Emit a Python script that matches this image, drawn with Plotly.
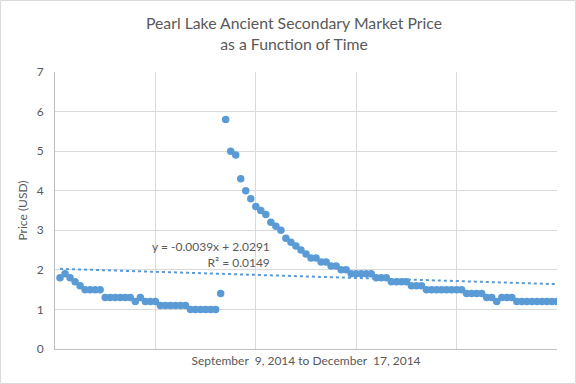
import plotly.graph_objects as go

days = list(range(1, 101))
price = (
    [1.8, 1.9, 1.8, 1.7, 1.6]
    + [1.5] * 4
    + [1.3] * 6
    + [1.2, 1.3]
    + [1.2] * 3
    + [1.1] * 6
    + [1.0] * 6
    + [1.4]
    + [5.8, 5.0, 4.9, 4.3, 4.0, 3.8, 3.6, 3.5, 3.4, 3.2, 3.1, 3.0, 2.8, 2.7, 2.6,
       2.5, 2.4, 2.3, 2.3, 2.2, 2.2, 2.1, 2.1, 2.0, 2.0]
    + [1.9] * 5
    + [1.8] * 3
    + [1.7] * 4
    + [1.6] * 3
    + [1.5] * 8
    + [1.4] * 4
    + [1.3] * 2
    + [1.2]
    + [1.3] * 3
    + [1.2] * 9
)
trend_slope = -0.0039
trend_intercept = 2.0291
trend_r2 = 0.0149
trend_x = [days[0], days[-1]]
trend_y = [trend_slope * x + trend_intercept for x in trend_x]

title_text = "Pearl Lake Ancient Secondary Market Price<br>as a Function of Time"
x_title = "September  9, 2014 to December  17, 2014"
y_title = "Price (USD)"

blue = "#5b9bd5"
grey = "#595959"
font = "Lato, 'Open Sans', sans-serif"

fig = go.Figure()
fig.add_trace(go.Scatter(x=trend_x, y=trend_y, mode="lines",
                         line=dict(color=blue, width=2, dash="dot"),
                         hoverinfo="skip", showlegend=False))
fig.add_trace(go.Scatter(x=days, y=price, mode="markers",
                         marker=dict(color=blue, size=7.5, line=dict(width=0)),
                         showlegend=False))

fig.add_annotation(x=43.2, y=2.39, xref="x", yref="y",
                   text=f"y = {trend_slope}x + {trend_intercept}<br>R² = {trend_r2}",
                   showarrow=False, align="right", xanchor="right", yanchor="middle",
                   font=dict(family=font, size=12, color=grey))

L, R, T, B = 55, 19, 72, 35
W, H = 576, 384
pw, ph = W - L - R, H - T - B
fig.add_shape(type="rect", xref="paper", yref="paper",
              x0=(0.5 - L) / pw, x1=(W - 0.5 - L) / pw,
              y0=-(B - 0.5) / ph, y1=1 + (T - 0.5) / ph,
              line=dict(color="#d9d9d9", width=1))

fig.update_layout(
    width=W, height=H,
    margin=dict(l=L, r=R, t=T, b=B, autoexpand=False),
    paper_bgcolor="white", plot_bgcolor="white",
    title=dict(text=title_text, x=294 / W, xref="container", xanchor="center",
               yref="container", y=1 - 29 / H, yanchor="top",
               font=dict(family=font, size=15.8, color=grey)),
    font=dict(family=font, color=grey, size=12),
    xaxis=dict(range=[0, 100], dtick=20, tick0=0, showticklabels=False,
               showgrid=True, gridcolor="#d9d9d9", gridwidth=1,
               zeroline=False, showline=True, linecolor="#bfbfbf",
               ticks="", automargin=False,
               title=dict(text=x_title, standoff=7,
                          font=dict(family=font, size=12, color=grey))),
    yaxis=dict(range=[0, 7], dtick=1, tick0=0,
               showgrid=True, gridcolor="#d9d9d9", gridwidth=1,
               zeroline=False, showline=True, linecolor="#bfbfbf",
               ticks="", ticklabelstandoff=8, automargin=False,
               tickfont=dict(family=font, size=12, color=grey),
               title=dict(text=y_title, standoff=6,
                          font=dict(family=font, size=12, color=grey))),
)

fig.write_html("out.html", config={"displayModeBar": False},
               post_script="document.body.style.margin='0';")
